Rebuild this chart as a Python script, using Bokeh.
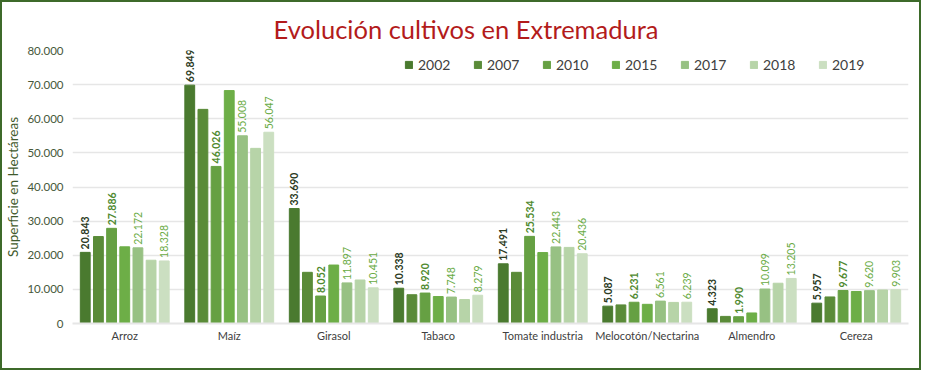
import math
from bokeh.plotting import figure
from bokeh.models import ColumnDataSource, FactorRange, Range1d, Legend, LegendItem, LabelSet, CustomJSTickFormatter
from bokeh.transform import dodge
from bokeh.core.properties import value
from bokeh.embed import file_html
from bokeh.resources import INLINE

cultivos = ["Arroz", "Maíz", "Girasol", "Tabaco", "Tomate industria",
            "Melocotón/Nectarina", "Almendro", "Cereza"]
years = ["2002", "2007", "2010", "2015", "2017", "2018", "2019"]

v2002 = [20843, 69849, 33690, 10338, 17491, 5087, 4323, 5957]
v2007 = [25480, 62750, 15000, 8430, 15000, 5450, 2080, 7780]
v2010 = [27886, 46026, 8052, 8920, 25534, 6231, 1990, 9677]
v2015 = [22470, 68260, 17130, 7900, 20790, 5620, 3090, 9380]
v2017 = [22172, 55008, 11897, 7748, 22443, 6561, 10099, 9620]
v2018 = [18540, 51320, 12750, 7020, 22300, 6180, 11800, 9830]
v2019 = [18328, 56047, 10451, 8279, 20436, 6239, 13205, 9903]
y_ticks = [0, 10000, 20000, 30000, 40000, 50000, 60000, 70000, 80000]

series = [v2002, v2007, v2010, v2015, v2017, v2018, v2019]
colors = ["#4a7a2f", "#5a8b38", "#66a043", "#6dae47", "#97c183", "#b7d4a8", "#cbdfc1"]
labelled = {"2002": ("#2b3a22", "bold"), "2010": ("#4f8a2f", "bold"),
            "2017": ("#6aab45", "normal"), "2019": ("#6aab45", "normal")}

def fmt(n):
    return f"{n:,}".replace(",", ".")

data = {"cultivo": cultivos}
for y, s in zip(years, series):
    data[y] = s
    data["lab" + y] = [fmt(n) for n in s]
src = ColumnDataSource(data)

p = figure(x_range=FactorRange(*cultivos, range_padding=0), y_range=Range1d(0, 80000),
           width=921, height=370, output_backend="svg", toolbar_location=None,
           min_border_left=69, min_border_right=15, min_border_top=48, min_border_bottom=49)
p.title.text = "Evolución cultivos en Extremadura"
p.title.align = "left"
p.title.text_font = "Lato"
p.title.text_font_size = "25.5px"
p.title.text_font_style = "normal"
p.title.text_color = "#b31b1b"
p.title.offset = 201
p.title.standoff = 14

step = 0.126
bw = 0.094
items = []
for i, (y, c) in enumerate(zip(years, colors)):
    off = (i - 3) * step
    r = p.vbar(x=dodge("cultivo", off, range=p.x_range), top=y, width=bw, source=src,
               fill_color=c, line_color=c)
    items.append(LegendItem(label=y, renderers=[r]))
    if y in labelled:
        col, style = labelled[y]
        ls = LabelSet(x=dodge("cultivo", off, range=p.x_range), y=y, text="lab" + y, source=src,
                      angle=math.pi / 2, y_offset=3, text_align="left", text_baseline="middle",
                      text_font=value("Lato"), text_font_size="10.5px", text_font_style=style,
                      text_color=col)
        p.add_layout(ls)

legend = Legend(items=items, orientation="horizontal", location=(332, 250),
                glyph_width=9, glyph_height=9, label_standoff=5, label_width=47, spacing=8,
                label_text_font="Lato", label_text_font_size="14px", label_text_color="#404040",
                background_fill_alpha=0, border_line_alpha=0, padding=0, margin=0)
p.add_layout(legend)

p.yaxis.formatter = CustomJSTickFormatter(code="return tick.toLocaleString('de-DE');")
p.yaxis.ticker = y_ticks
p.yaxis.axis_label = "Superficie en Hectáreas"
p.yaxis.axis_label_text_font = "Lato"
p.yaxis.axis_label_text_font_size = "13.5px"
p.yaxis.axis_label_text_font_style = "normal"
p.yaxis.axis_label_text_color = "#3f5a2c"
p.yaxis.axis_label_standoff = 3
p.yaxis.major_label_text_font = "Lato"
p.yaxis.major_label_text_font_size = "11.5px"
p.yaxis.major_label_text_color = "#46583a"
p.yaxis.axis_line_color = None
p.yaxis.major_tick_line_color = None
p.yaxis.minor_tick_line_color = None
p.yaxis.major_tick_out = 0
p.yaxis.minor_tick_out = 0
p.yaxis.major_label_standoff = 9

p.xaxis.major_label_text_font = "Lato"
p.xaxis.major_label_text_font_size = "11px"
p.xaxis.major_label_text_color = "#404040"
p.xaxis.axis_line_color = "#e6e6e6"
p.xaxis.axis_line_width = 2
p.xaxis.major_tick_line_color = None
p.xaxis.major_tick_out = 0
p.xaxis.major_label_standoff = 5

p.xgrid.grid_line_color = None
p.ygrid.grid_line_color = "#e6e6e6"
p.ygrid.grid_line_width = 1.5
p.outline_line_color = None
p.background_fill_color = "white"
p.border_fill_color = "white"
p.styles = {"border": "2px solid #3d6a2a"}

open("out.html", "w").write(file_html(p, INLINE))
